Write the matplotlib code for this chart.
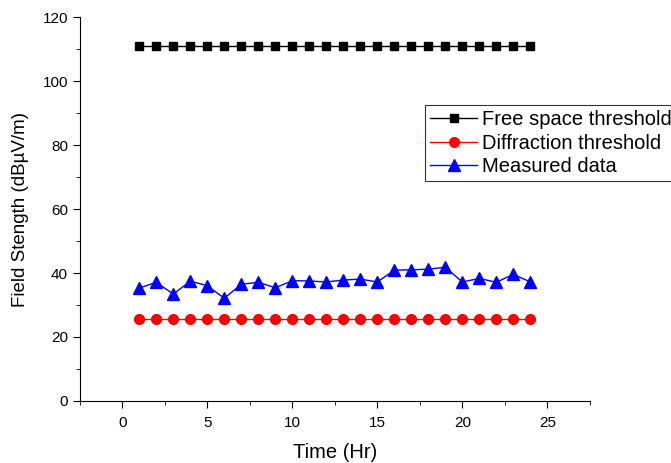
import matplotlib
matplotlib.use("Agg")
import matplotlib.pyplot as plt
from matplotlib.ticker import MultipleLocator

plt.rcParams["font.family"] = ["Liberation Sans", "DejaVu Sans"]

hours = list(range(1, 25))
free_space = [111] * 24
diffraction = [25.6] * 24
measured = [35.3, 37.1, 33.4, 37.5, 36.0, 32.1, 36.5, 37.1, 35.4, 37.6, 37.5, 37.2,
            37.8, 38.1, 37.2, 40.9, 41.0, 41.2, 41.8, 37.2, 38.3, 37.1, 39.6, 37.2]

fig = plt.figure(figsize=(6.71, 4.63), dpi=100)
ax = fig.add_axes([0.119, 0.134, 0.760, 0.829])

ax.plot(hours, free_space, color="black", marker="s", markersize=6, lw=1, label="Free space threshold")
ax.plot(hours, diffraction, color="red", marker="o", markersize=7, lw=1, label="Diffraction threshold")
ax.plot(hours, measured, color="blue", marker="^", markersize=8, lw=1, label="Measured data")

ax.set_xlim(-2.5, 27.5)
ax.set_ylim(0, 120)
ax.xaxis.set_major_locator(MultipleLocator(5))
ax.xaxis.set_minor_locator(MultipleLocator(2.5))
ax.yaxis.set_major_locator(MultipleLocator(20))
ax.yaxis.set_minor_locator(MultipleLocator(10))
ax.spines["top"].set_visible(False)
ax.spines["right"].set_visible(False)
ax.tick_params(which="major", direction="out", length=5, labelsize=11)
ax.tick_params(axis="x", which="major", pad=6)
ax.tick_params(which="minor", direction="out", length=3)
ax.set_xlabel("Time (Hr)", fontsize=14.5, labelpad=9)
ax.set_ylabel("Field Stength (dBµV/m)", fontsize=13.5, labelpad=10)

leg = ax.legend(loc="upper left", bbox_to_anchor=(0.634, 0.773), bbox_transform=fig.transFigure,
                fontsize=14.5, frameon=True, fancybox=False, edgecolor="black",
                borderpad=0.25, labelspacing=0.22, handlelength=2.3, handletextpad=0.25,
                borderaxespad=0)
leg.get_frame().set_linewidth(0.8)

fig.savefig("out.png", dpi=100)
